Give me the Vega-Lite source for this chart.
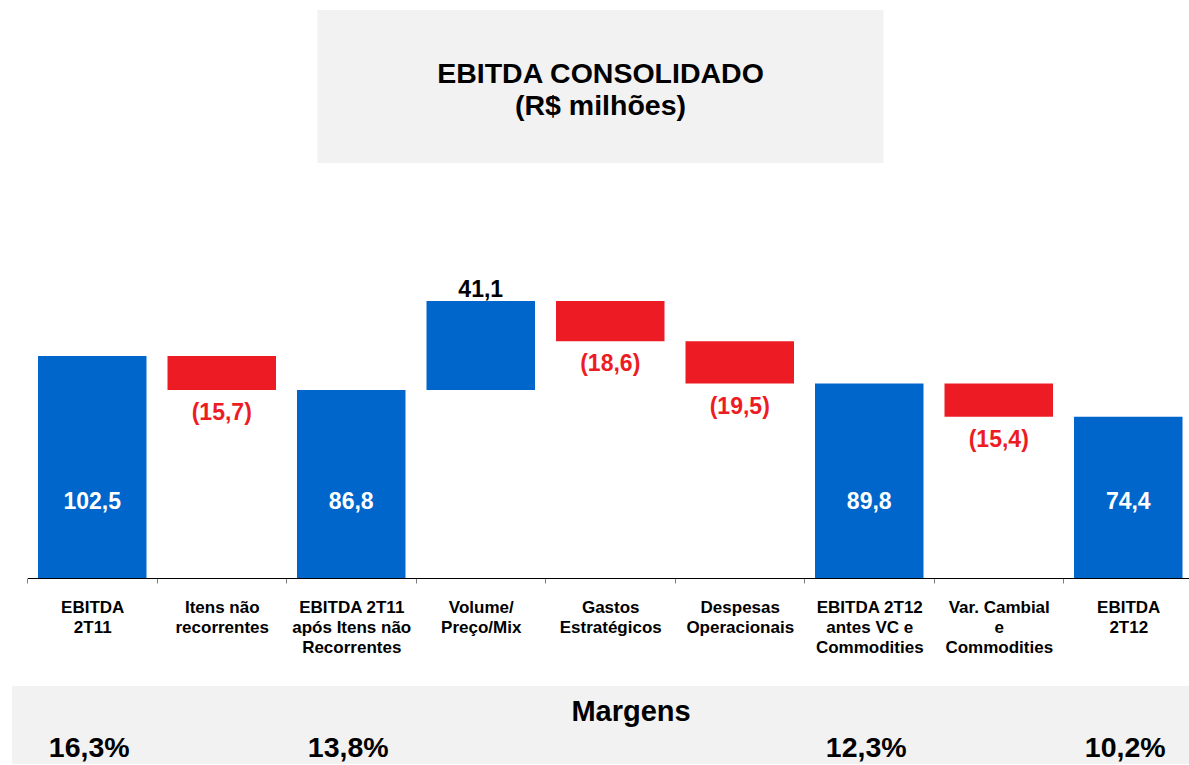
{
  "$schema": "https://vega.github.io/schema/vega-lite/v6.json",
  "padding": {"left": 12, "top": 10, "right": 0, "bottom": 0},
  "background": "white",
  "center": true,
  "spacing": 31,
  "config": {"font": "Liberation Sans", "view": {"stroke": null}},
  "datasets": {
    "steps": [
      {"cat": "EBITDA|2T11", "start": 0, "end": 102.5, "label": "102,5", "kind": "total"},
      {"cat": "Itens não|recorrentes", "start": 102.5, "end": 86.8, "label": "(15,7)", "kind": "neg"},
      {"cat": "EBITDA 2T11|após Itens não|Recorrentes", "start": 0, "end": 86.8, "label": "86,8", "kind": "total"},
      {"cat": "Volume/|Preço/Mix", "start": 86.8, "end": 127.9, "label": "41,1", "kind": "pos"},
      {"cat": "Gastos|Estratégicos", "start": 127.9, "end": 109.3, "label": "(18,6)", "kind": "neg"},
      {"cat": "Despesas|Operacionais", "start": 109.3, "end": 89.8, "label": "(19,5)", "kind": "neg"},
      {"cat": "EBITDA 2T12|antes VC e|Commodities", "start": 0, "end": 89.8, "label": "89,8", "kind": "total"},
      {"cat": "Var. Cambial|e|Commodities", "start": 89.8, "end": 74.4, "label": "(15,4)", "kind": "neg"},
      {"cat": "EBITDA|2T12", "start": 0, "end": 74.4, "label": "74,4", "kind": "total"}
    ],
    "margins": [
      {"cat": "EBITDA|2T11", "margin": "16,3%"},
      {"cat": "EBITDA 2T11|após Itens não|Recorrentes", "margin": "13,8%"},
      {"cat": "EBITDA 2T12|antes VC e|Commodities", "margin": "12,3%"},
      {"cat": "EBITDA|2T12", "margin": "10,2%"}
    ]
  },
  "vconcat": [
    {
      "width": 566,
      "height": 153,
      "view": {"fill": "#F2F2F2", "stroke": null},
      "data": {"values": [{"title": "EBITDA CONSOLIDADO\n(R$ milhões)"}]},
      "mark": {"type": "text", "fontSize": 28.5, "fontWeight": "bold", "lineHeight": 32, "lineBreak": "\n", "color": "black", "baseline": "middle", "align": "center", "dy": -13},
      "encoding": {"text": {"field": "title", "type": "nominal"}}
    },
    {
      "width": 1177,
      "height": 384,
      "data": {"name": "steps"},
      "encoding": {
        "x": {
          "field": "cat",
          "type": "nominal",
          "sort": null,
          "scale": {
            "type": "band",
            "domain": ["EBITDA|2T11", "Itens não|recorrentes", "EBITDA 2T11|após Itens não|Recorrentes", "Volume/|Preço/Mix", "Gastos|Estratégicos", "Despesas|Operacionais", "EBITDA 2T12|antes VC e|Commodities", "Var. Cambial|e|Commodities", "EBITDA|2T12"],
            "paddingInner": 0.16216,
            "paddingOuter": 0.12548,
            "align": 0.8
          },
          "axis": {
            "title": null,
            "labelExpr": "split(datum.label, '|')",
            "labelAngle": 0,
            "labelFontSize": 17,
            "labelFontWeight": "bold",
            "labelColor": "black",
            "labelLineHeight": 20,
            "labelPadding": 16,
            "labelBaseline": "top",
            "labelOverlap": false,
            "labelLimit": 250,
            "tickBand": "center",
            "tickOffset": -64.75,
            "labelOffset": 64.75,
            "tickSize": 5,
            "tickColor": "#7F7F7F",
            "domainColor": "black",
            "domainDash": [1161.5, 15.5],
            "domainDashOffset": 1161.5,
            "grid": false
          }
        }
      },
      "layer": [
        {
          "mark": {"type": "bar"},
          "encoding": {
            "y": {"field": "start", "type": "quantitative", "scale": {"domain": [0, 177.3], "nice": false, "zero": true}, "axis": null},
            "y2": {"field": "end"},
            "color": {"field": "kind", "type": "nominal", "scale": {"domain": ["total", "pos", "neg"], "range": ["#0066CC", "#0066CC", "#ED1C24"]}, "legend": null}
          }
        },
        {
          "transform": [{"filter": "datum.kind == 'total'"}],
          "mark": {"type": "text", "color": "white", "fontSize": 23, "fontWeight": "bold", "baseline": "middle"},
          "encoding": {
            "y": {"datum": 35.3, "type": "quantitative", "scale": {"domain": [0, 177.3], "nice": false, "zero": true}},
            "text": {"field": "label", "type": "nominal"}
          }
        },
        {
          "transform": [{"filter": "datum.kind == 'pos'"}],
          "mark": {"type": "text", "color": "black", "fontSize": 23, "fontWeight": "bold", "baseline": "bottom", "dy": 1},
          "encoding": {
            "y": {"field": "end", "type": "quantitative", "scale": {"domain": [0, 177.3], "nice": false, "zero": true}},
            "text": {"field": "label", "type": "nominal"}
          }
        },
        {
          "transform": [{"filter": "datum.kind == 'neg'"}],
          "mark": {"type": "text", "color": "#ED1C24", "fontSize": 23, "fontWeight": "bold", "baseline": "top", "dy": 12},
          "encoding": {
            "y": {"field": "end", "type": "quantitative", "scale": {"domain": [0, 177.3], "nice": false, "zero": true}},
            "text": {"field": "label", "type": "nominal"}
          }
        }
      ]
    },
    {
      "width": 1177,
      "height": 78,
      "view": {"fill": "#F2F2F2", "stroke": null},
      "layer": [
        {
          "data": {"values": [{"heading": "Margens"}]},
          "mark": {"type": "text", "fontSize": 29, "fontWeight": "bold", "color": "black", "baseline": "middle", "dx": 30.5, "dy": -13},
          "encoding": {"text": {"field": "heading", "type": "nominal"}}
        },
        {
          "data": {"name": "margins"},
          "mark": {"type": "text", "fontSize": 28.5, "fontWeight": "bold", "color": "black", "baseline": "middle", "dy": 23, "dx": -3},
          "encoding": {
            "x": {
              "field": "cat",
              "type": "nominal",
              "sort": null,
              "bandPosition": 0.5,
              "scale": {
                "type": "band",
                "domain": ["EBITDA|2T11", "Itens não|recorrentes", "EBITDA 2T11|após Itens não|Recorrentes", "Volume/|Preço/Mix", "Gastos|Estratégicos", "Despesas|Operacionais", "EBITDA 2T12|antes VC e|Commodities", "Var. Cambial|e|Commodities", "EBITDA|2T12"],
                "paddingInner": 0.16216,
                "paddingOuter": 0.12548,
                "align": 0.8
              },
              "axis": null
            },
            "text": {"field": "margin", "type": "nominal"}
          }
        }
      ]
    }
  ]
}
